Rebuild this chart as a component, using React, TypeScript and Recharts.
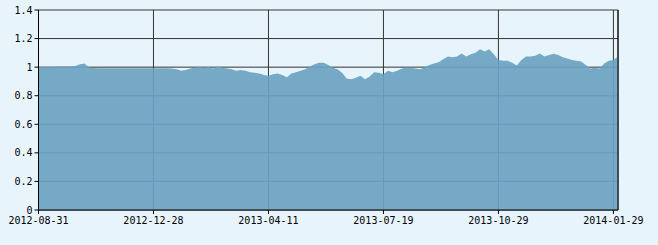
import { AreaChart, Area, XAxis, YAxis, CartesianGrid, ReferenceLine } from 'recharts'

if (typeof document !== 'undefined') {
  document.body.style.margin = '0'
  document.body.style.background = '#e8f4fc'
}

// net value per trading day
const navValues = [
  1.0, 1.0, 1.0, 1.0, 1.005, 1.005, 1.005, 1.005, 1.008, 1.02,
  1.025, 0.995, 0.994, 0.993, 0.993, 0.993, 0.993, 0.993, 0.993, 0.993,
  0.993, 0.993, 0.993, 0.993, 0.993, 0.993, 0.993, 0.993, 0.993, 0.99,
  0.985, 0.975, 0.98, 0.99, 0.995, 1.0, 0.995, 1.0, 0.99, 1.005,
  0.995, 0.99, 0.985, 0.975, 0.98, 0.975, 0.965, 0.96, 0.955, 0.945,
  0.94, 0.95, 0.955, 0.945, 0.93, 0.955, 0.965, 0.975, 0.985, 1.005,
  1.02, 1.03, 1.03, 1.015, 0.995, 0.985, 0.96, 0.92, 0.915, 0.925,
  0.94, 0.915, 0.935, 0.965, 0.96, 0.95, 0.975, 0.965, 0.975, 0.99,
  0.995, 0.995, 0.99, 0.985, 1.0, 1.015, 1.025, 1.035, 1.055, 1.075,
  1.07, 1.075, 1.095, 1.075, 1.09, 1.1, 1.125, 1.11, 1.125, 1.09,
  1.05, 1.045, 1.045, 1.03, 1.012, 1.05, 1.075, 1.075, 1.08, 1.095,
  1.075, 1.085, 1.094, 1.085, 1.07, 1.06, 1.05, 1.045, 1.04, 1.015,
  0.99, 0.995, 0.99, 1.025, 1.045, 1.05, 1.075,
]

const xTickIndex = [0, 25, 50, 75, 100, 125]
const xTickLabels = ['2012-08-31', '2012-12-28', '2013-04-11', '2013-07-19', '2013-10-29', '2014-01-29']
const yTicks = [0, 0.2, 0.4, 0.6, 0.8, 1, 1.2, 1.4]

const chartData = navValues.map((v, i) => ({ idx: i, nav: v }))
const lastIdx = navValues.length - 1

const tickFont = { fontFamily: '"DejaVu Sans Mono", monospace', fontSize: 10, fill: '#000' }

export default function App() {
  return (
    <div style={{ width: 658, height: 245, background: '#e8f4fc' }}>
      <AreaChart width={658} height={245} data={chartData} margin={{ top: 10, right: 40, left: 0, bottom: 0 }}>
        <CartesianGrid stroke="#333" strokeWidth={1} />
        <XAxis
          dataKey="idx"
          type="number"
          domain={[0, lastIdx]}
          ticks={xTickIndex}
          tickFormatter={(v: number) => xTickLabels[xTickIndex.indexOf(v)] ?? ''}
          stroke="#000"
          tick={tickFont}
          tickSize={4}
          tickMargin={3}
          height={35}
          interval={0}
        />
        <YAxis
          type="number"
          domain={[0, 1.4]}
          ticks={yTicks}
          tickFormatter={(v: number) => (v === 0 ? '0' : v === 1 ? '1' : v.toFixed(1))}
          stroke="#000"
          tick={tickFont}
          tickSize={4}
          tickMargin={2}
          width={38.5}
          interval={0}
        />
        <Area
          type="linear"
          dataKey="nav"
          stroke="none"
          fill="#6aa2c1"
          fillOpacity={0.92}
          isAnimationActive={false}
        />
        <ReferenceLine x={lastIdx} stroke="#000" />
      </AreaChart>
    </div>
  )
}
